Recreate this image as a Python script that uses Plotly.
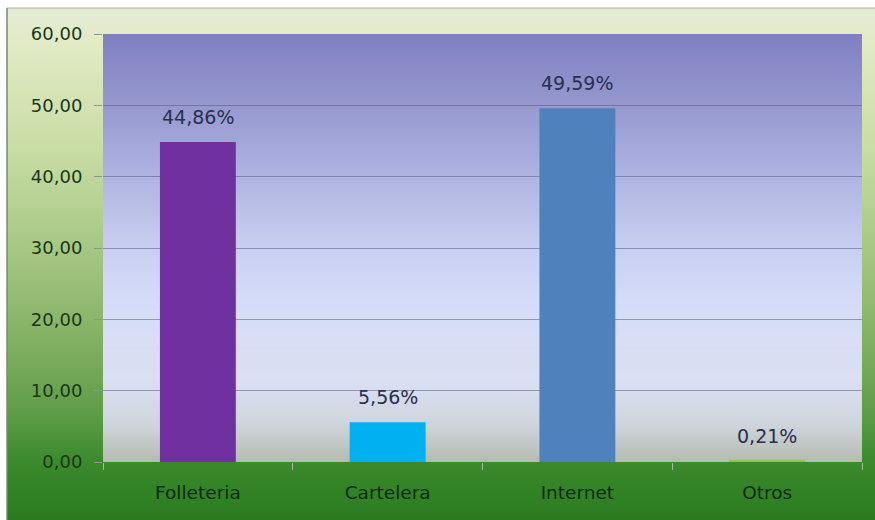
import plotly.graph_objects as go

# Survey: how respondents learned about the event
categories = ["Folleteria", "Cartelera", "Internet", "Otros"]
values = [44.86, 5.56, 49.59, 0.21]
bar_colors = ["#7030a0", "#00b0f0", "#4f81bd", "#9bbb59"]
y_ticks = [0, 10, 20, 30, 40, 50, 60]
y_tick_labels = ["0,00", "10,00", "20,00", "30,00", "40,00", "50,00", "60,00"]
value_labels = [f"{v:.2f}".replace(".", ",") + "%" for v in values]

W, H = 875, 520
ML, MR, MT, MB = 103, 13, 34, 58
PW, PH = W - ML - MR, H - MT - MB


def px_to_paper_x(px):
    return (px - ML) / PW


def px_to_paper_y(py):
    return (H - MB - py) / PH


def hex_rgb(h):
    h = h.lstrip("#")
    return tuple(int(h[i:i + 2], 16) for i in (0, 2, 4))


def interp(stops, py):
    for (p0, c0), (p1, c1) in zip(stops, stops[1:]):
        if p0 <= py <= p1:
            t = (py - p0) / (p1 - p0) if p1 > p0 else 0
            a, b = hex_rgb(c0), hex_rgb(c1)
            return "rgb(%d,%d,%d)" % tuple(round(a[i] + (b[i] - a[i]) * t) for i in range(3))
    return stops[-1][1] if py > stops[-1][0] else stops[0][1]


def gradient_strips(x0px, x1px, y0px, y1px, stops, step=2):
    out = []
    py = y0px
    while py < y1px:
        nxt = min(py + step, y1px)
        out.append(dict(
            type="rect", xref="paper", yref="paper", layer="below",
            x0=px_to_paper_x(x0px), x1=px_to_paper_x(x1px),
            y0=px_to_paper_y(nxt), y1=px_to_paper_y(py),
            fillcolor=interp(stops, (py + nxt) / 2), line=dict(width=0),
        ))
        py = nxt
    return out


# outer chart frame: pale yellow-green fading into deep green
outer_stops = [(8, "#e4ecd8"), (40, "#e2ebc6"), (150, "#c8dca4"), (250, "#a6c784"),
               (350, "#7eae5e"), (420, "#5a9a44"), (462, "#3a8a2c"), (520, "#2a7c20")]
# plot area: lavender-blue at the top, pale in the middle, greyish at the base
plot_stops = [(34, "#8080c2"), (100, "#9496cd"), (170, "#adb1e0"), (240, "#c6ccef"),
              (300, "#d5dcf8"), (380, "#d9e0f2"), (425, "#cfd4dc"), (462, "#b4bbb0")]

shapes = []
shapes += gradient_strips(7, W, 8, H, outer_stops)
shapes += gradient_strips(ML, W - MR, MT, H - MB, plot_stops)
# thin frame border on the left and top
shapes.append(dict(type="line", xref="paper", yref="paper", layer="below",
                   x0=px_to_paper_x(7), x1=px_to_paper_x(7),
                   y0=px_to_paper_y(8), y1=px_to_paper_y(H),
                   line=dict(color="#7a8a70", width=1.5)))
shapes.append(dict(type="line", xref="paper", yref="paper", layer="below",
                   x0=px_to_paper_x(7), x1=px_to_paper_x(W),
                   y0=px_to_paper_y(8), y1=px_to_paper_y(8),
                   line=dict(color="#a8b4a0", width=1)))

fig = go.Figure(go.Bar(
    x=categories, y=values, marker=dict(color=bar_colors, line=dict(width=0)),
    hoverinfo="skip",
))

annotations = [
    dict(x=c, y=v, text=t, showarrow=False, xref="x", yref="y",
         yanchor="bottom", yshift=12,
         font=dict(family="DejaVu Sans", size=19, color="#283050"))
    for c, v, t in zip(categories, values, value_labels)
]

fig.update_layout(
    width=W, height=H,
    margin=dict(l=ML, r=MR, t=MT, b=MB, pad=0),
    paper_bgcolor="white",
    plot_bgcolor="rgba(0,0,0,0)",
    bargap=0.6,
    showlegend=False,
    shapes=shapes,
    annotations=annotations,
    xaxis=dict(
        showgrid=False, zeroline=False, showline=False,
        ticks="outside", tickson="boundaries", ticklen=7, tickcolor="#a8b8a0",
        ticklabelstandoff=17,
        tickfont=dict(family="DejaVu Sans", size=18.5, color="#0c2a0b"),
    ),
    yaxis=dict(
        range=[0, 60], tickvals=y_ticks, ticktext=y_tick_labels,
        showgrid=True, gridcolor="rgba(90,90,135,0.55)", gridwidth=1,
        zeroline=False, showline=False,
        ticks="outside", ticklen=8, tickcolor="#8a9a84",
        ticklabelstandoff=8,
        tickfont=dict(family="DejaVu Sans", size=18, color="#1c361a"),
    ),
)

fig.write_html("out.html")
